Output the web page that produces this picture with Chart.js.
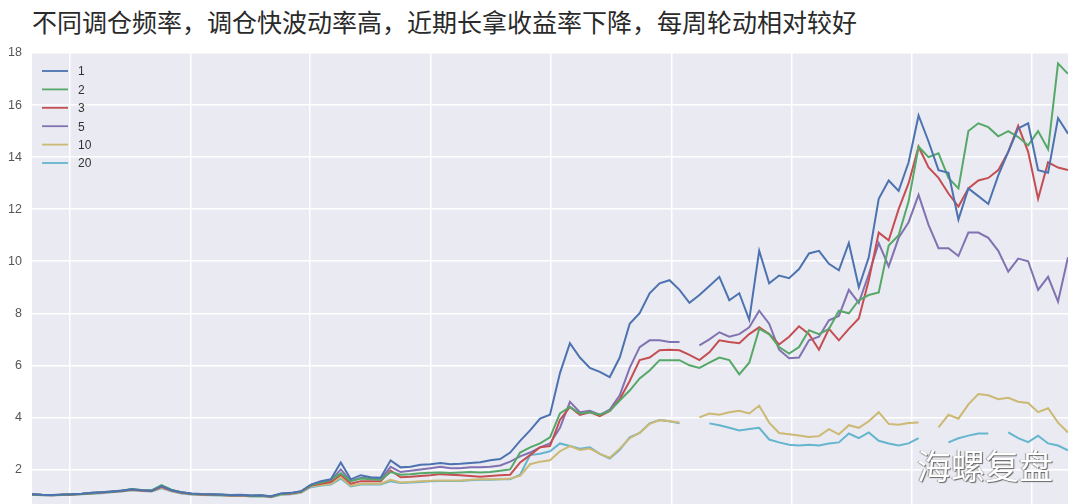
<!DOCTYPE html>
<html>
<head>
<meta charset="utf-8">
<script src="https://cdn.jsdelivr.net/npm/chart.js@4.4.1/dist/chart.umd.min.js"></script>
<style>
  body { margin: 0; width: 1080px; height: 504px; overflow: hidden; background: #fff; position: relative; }
  #title { position: absolute; left: 32px; top: 3px; font-family: "Noto Sans CJK SC", sans-serif; font-size: 25px; color: #2a2a2a; white-space: nowrap; }
  #chart { position: absolute; left: 0; top: 0; }
  #mark { position: absolute; left: 917px; top: 440px; font-family: "Noto Sans CJK SC", sans-serif; font-size: 34px; color: #fff; text-shadow: 1px 1px 1px #666, -1px 0 1px #999; white-space: nowrap; }
</style>
</head>
<body>
<div id="title">不同调仓频率，调仓快波动率高，近期长拿收益率下降，每周轮动相对较好</div>
<canvas id="chart" width="1080" height="539"></canvas>
<div id="mark">海螺复盘</div>
<script>
// series names (rebalance period)
const seriesNames = ['1', '2', '3', '5', '10', '20'];
const seriesColors = ['#4C72B0', '#55A868', '#C44E52', '#8172B2', '#CCB974', '#64B5CD'];

// y ticks and vertical grid positions (in sample index units)
const yTicks = [0, 2, 4, 6, 8, 10, 12, 14, 16, 18];
const xGridAt = [3.8, 15.9, 27.9, 40.0, 52.1, 64.2, 76.3, 88.3, 100.4];

// net value
const s1 = [
  1.05,1.03,1.02,1.04,1.05,1.07,1.10,1.12,1.15,1.18,
  1.24,1.20,1.18,1.36,1.20,1.12,1.08,1.06,1.05,1.04,
  1.02,1.03,1.00,1.01,0.97,1.08,1.10,1.16,1.42,1.55,
  1.62,2.27,1.62,1.78,1.70,1.68,2.35,2.08,2.10,2.18,
  2.20,2.25,2.20,2.22,2.25,2.28,2.35,2.40,2.65,3.10,
  3.50,3.95,4.10,5.70,6.85,6.30,5.90,5.75,5.55,6.30,
  7.60,8.00,8.77,9.15,9.27,8.90,8.40,8.70,9.05,9.40,
  8.50,8.77,7.75,10.40,9.15,9.45,9.35,9.70,10.30,10.40,
  9.90,9.65,10.70,9.00,10.15,12.40,13.10,12.70,13.80,15.60,
  14.60,13.50,13.40,11.60,12.80,12.50,12.20,13.30,14.20,15.10,
  15.30,13.50,13.40,15.50,14.90
];
const s2 = [
  1.04,1.02,1.02,1.03,1.05,1.06,1.09,1.12,1.14,1.18,
  1.25,1.21,1.20,1.40,1.22,1.12,1.07,1.05,1.04,1.03,
  1.01,1.02,0.99,1.00,0.96,1.06,1.09,1.15,1.40,1.50,
  1.60,1.85,1.55,1.65,1.62,1.60,1.90,1.80,1.82,1.85,
  1.87,1.88,1.86,1.88,1.90,1.88,1.90,1.95,2.00,2.65,
  2.85,3.00,3.23,4.15,4.40,4.15,4.20,4.10,4.25,4.65,
  5.03,5.50,5.80,6.20,6.20,6.20,6.00,5.90,6.10,6.30,
  6.20,5.65,6.10,7.40,7.20,6.70,6.45,6.70,7.35,7.20,
  7.40,8.10,8.00,8.50,8.70,8.80,10.60,11.00,12.30,14.40,
  14.00,14.15,13.20,12.80,15.00,15.30,15.15,14.80,15.00,14.77,
  14.45,15.00,14.30,17.60,17.20
];
const s3 = [
  1.04,1.02,1.01,1.03,1.04,1.06,1.09,1.11,1.14,1.17,
  1.22,1.19,1.17,1.33,1.19,1.10,1.06,1.04,1.03,1.02,
  1.00,1.01,0.98,0.99,0.95,1.06,1.08,1.14,1.38,1.45,
  1.52,1.80,1.45,1.55,1.55,1.55,1.96,1.70,1.72,1.75,
  1.78,1.82,1.80,1.78,1.75,1.72,1.75,1.78,1.80,2.27,
  2.55,2.85,2.90,3.90,4.40,4.10,4.20,4.05,4.25,4.70,
  5.40,6.20,6.30,6.58,6.60,6.58,6.40,6.20,6.50,6.96,
  6.90,6.85,7.20,7.46,7.20,6.80,7.10,7.50,7.20,6.60,
  7.40,6.96,7.40,7.80,9.27,11.10,10.80,12.00,13.00,14.40,
  13.60,13.20,12.60,12.10,12.80,13.10,13.20,13.50,14.20,15.20,
  14.20,12.40,13.80,13.60,13.50
];
const s5 = [
  1.05,1.03,1.02,1.03,1.05,1.07,1.10,1.12,1.15,1.19,
  1.23,1.20,1.18,1.35,1.20,1.12,1.07,1.05,1.04,1.03,
  1.01,1.02,0.99,1.00,0.96,1.07,1.09,1.15,1.40,1.50,
  1.58,2.00,1.55,1.68,1.65,1.62,2.10,1.90,1.95,2.00,
  2.05,2.10,2.05,2.05,2.08,2.08,2.10,2.15,2.30,2.50,
  2.65,2.85,3.00,3.60,4.60,4.20,4.25,4.10,4.30,4.85,
  5.90,6.70,6.96,6.96,6.90,6.90,null,6.77,7.00,7.27,
  7.10,7.20,7.46,8.10,7.60,6.60,6.27,6.30,6.96,7.10,
  7.73,7.90,8.90,8.40,9.50,10.70,9.80,10.90,11.50,12.55,
  11.40,10.50,10.50,10.20,11.10,11.10,10.90,10.40,9.60,10.10,
  10.00,8.90,9.40,8.45,10.15
];
const s10 = [
  1.04,1.02,1.01,1.03,1.04,1.06,1.08,1.10,1.13,1.16,
  1.21,1.18,1.16,1.30,1.17,1.09,1.05,1.03,1.02,1.01,
  0.99,1.00,0.97,0.98,0.94,1.04,1.06,1.11,1.35,1.40,
  1.45,1.70,1.38,1.45,1.45,1.45,1.60,1.50,1.52,1.55,
  1.57,1.58,1.58,1.58,1.60,1.62,1.62,1.62,1.65,1.75,
  2.20,2.30,2.35,2.70,2.90,2.75,2.80,2.60,2.45,2.80,
  3.20,3.40,3.75,3.90,3.85,3.80,null,4.00,4.15,4.10,
  4.20,4.25,4.15,4.45,3.80,3.40,3.35,3.30,3.25,3.28,
  3.55,3.35,3.70,3.60,3.85,4.20,3.75,3.72,3.78,3.80,
  null,3.62,4.10,3.95,4.50,4.90,4.85,4.70,4.75,4.60,
  4.55,4.20,4.35,3.80,3.42
];
const s20 = [
  1.03,1.01,1.00,1.02,1.03,1.05,1.07,1.09,1.12,1.15,
  1.20,1.17,1.15,1.28,1.16,1.08,1.04,1.02,1.01,1.00,
  0.98,0.99,0.96,0.97,0.93,1.03,1.05,1.10,1.32,1.38,
  1.42,1.65,1.35,1.42,1.42,1.42,1.55,1.48,1.50,1.52,
  1.55,1.56,1.56,1.56,1.58,1.60,1.60,1.62,1.62,1.80,
  2.55,2.60,2.70,3.00,2.90,2.80,2.85,2.60,2.42,2.75,
  3.23,3.40,3.77,3.90,3.85,3.77,null,null,3.77,3.70,
  3.60,3.50,3.55,3.60,3.15,3.04,2.95,2.92,2.95,2.92,
  3.00,3.04,3.38,3.20,3.42,3.10,3.00,2.92,3.00,3.20,
  null,null,3.04,3.20,3.30,3.38,3.38,null,3.42,3.20,
  3.05,3.30,3.00,2.92,2.73
];

const allSeries = [s1, s2, s3, s5, s10, s20];
const steps = s1.map((_, i) => i);

// grey plot background like seaborn
const plotBg = {
  id: 'plotBg',
  beforeDraw(chart) {
    const { ctx, chartArea: a } = chart;
    ctx.save();
    ctx.fillStyle = '#EAEAF2';
    ctx.fillRect(a.left, a.top, a.right - a.left, a.bottom - a.top);
    ctx.restore();
  }
};

// legend inside the plot, top left
const innerLegend = {
  id: 'innerLegend',
  afterDraw(chart) {
    const { ctx, chartArea: a } = chart;
    ctx.save();
    ctx.font = '12px "Liberation Sans", Arial, sans-serif';
    ctx.textBaseline = 'middle';
    chart.data.datasets.forEach((ds, i) => {
      const y = a.top + 18 + i * 18.4;
      ctx.strokeStyle = ds.borderColor;
      ctx.lineWidth = 1.8;
      ctx.beginPath();
      ctx.moveTo(a.left + 10, y);
      ctx.lineTo(a.left + 36, y);
      ctx.stroke();
      ctx.fillStyle = '#333';
      ctx.fillText(ds.label, a.left + 46, y + 1);
    });
    ctx.restore();
  }
};

new Chart(document.getElementById('chart'), {
  type: 'line',
  data: {
    labels: steps,
    datasets: seriesNames.map((name, i) => ({
      label: name,
      data: allSeries[i],
      borderColor: seriesColors[i],
      borderWidth: 2,
      pointRadius: 0,
      tension: 0,
      spanGaps: false,
      fill: false
    }))
  },
  options: {
    responsive: false,
    animation: false,
    layout: { padding: { top: 53, right: 12, left: 0, bottom: 0 } },
    plugins: { legend: { display: false }, tooltip: { enabled: false } },
    scales: {
      x: {
        type: 'linear',
        min: 0,
        max: steps.length - 1,
        afterBuildTicks: s => { s.ticks = xGridAt.map(v => ({ value: v })); },
        ticks: { display: false },
        grid: { color: '#FFFFFF', lineWidth: 1.5, drawTicks: false },
        border: { display: false }
      },
      y: {
        min: 0,
        max: 18,
        afterBuildTicks: s => { s.ticks = yTicks.map(v => ({ value: v })); },
        afterFit: s => { s.width = 32; },
        ticks: {
          color: '#555',
          padding: 10,
          font: { family: '"Liberation Sans", Arial, sans-serif', size: 12.5 }
        },
        grid: { color: '#FFFFFF', lineWidth: 1.5, drawTicks: false },
        border: { display: false }
      }
    }
  },
  plugins: [plotBg, innerLegend]
});
</script>
</body>
</html>
